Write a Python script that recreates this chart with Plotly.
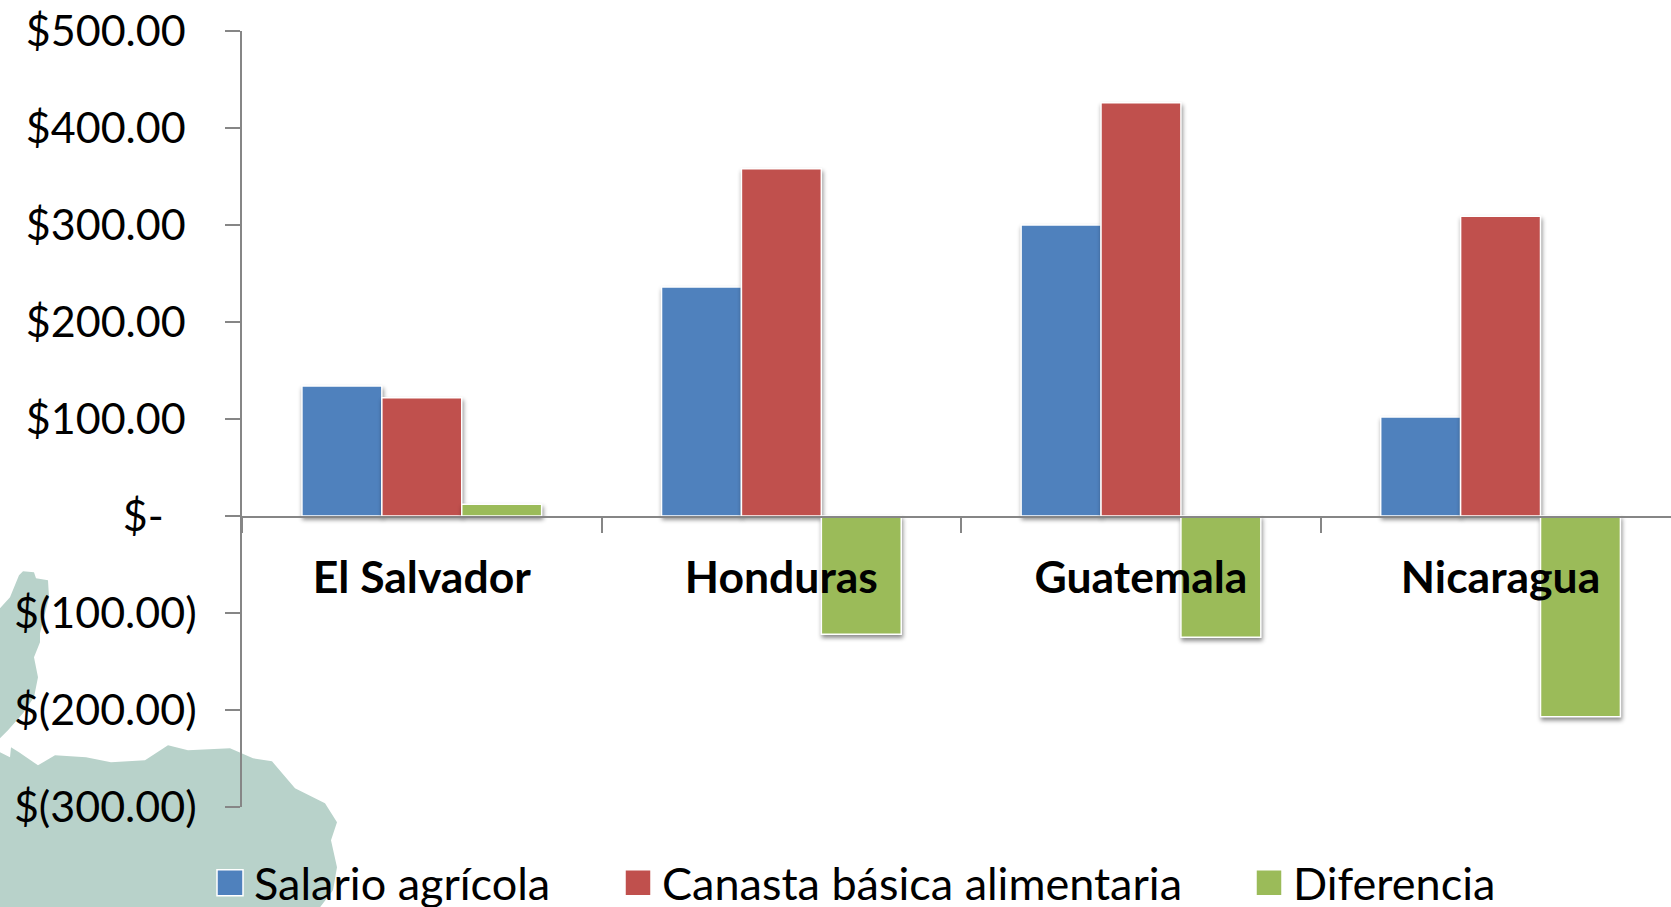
import plotly.graph_objects as go

categories = ["El Salvador", "Honduras", "Guatemala", "Nicaragua"]
salario = [134, 236, 300, 102]
canasta = [122, 358, 426, 309]
diferencia = [12, -122, -125, -207]
tick_vals = [500, 400, 300, 200, 100, 0, -100, -200, -300]
nb = "\u00a0"
tick_text = ["$500.00" + nb, "$400.00" + nb, "$300.00" + nb, "$200.00" + nb, "$100.00" + nb,
             "$-" + nb * 3, "$(100.00)", "$(200.00)", "$(300.00)"]

W, H = 1671, 907
L, T, B = 242, 30.7, 806.7
FONT = "Lato"
GRAY = "#868686"

def px(points):
    return "M" + " L".join(f"{(x - L) / (W - L):.5f},{1 - (y - T) / (B - T):.5f}" for x, y in points) + " Z"

land_a = [(0,608),(10,597),(19,575),(23,571),(34,572),(36,578),(48,580),(49,597),(40,633),(40,642),(34,657),(38,677),(34,697),(23,713),(8,730),(0,738)]
land_b = [(0,752),(10,757),(11,747),(19,752),(38,765),(55,755),(86,757),(111,762),(145,760),(168,745),(188,750),(230,748),(253,758),(272,761),(295,788),(325,803),(337,822),(331,840),(337,867),(333,890),(320,907),(0,907)]

fig = go.Figure()
series = [("Salario agrícola", salario, "#4F81BD", "legend"),
          ("Canasta básica alimentaria", canasta, "#C0504D", "legend2"),
          ("Diferencia", diferencia, "#9BBB59", "legend3")]
for name, vals, color, leg in series:
    fig.add_bar(name=name, x=categories, y=vals, legend=leg,
                marker=dict(color=color, line=dict(color="white", width=1.5)))
# invisible companion trace that ties the category axis to the upper (zero-based) y axis
fig.add_scatter(x=categories, y=salario, yaxis="y2", mode="markers", marker=dict(opacity=0),
                showlegend=False, hoverinfo="skip")

def legend(x):
    return dict(xref="container", yref="container", x=x / W, y=1 - 847 / H, xanchor="left", yanchor="top",
                bgcolor="rgba(0,0,0,0)", font=dict(family=FONT, size=45, color="black"), itemclick=False)

fig.update_layout(
    width=W, height=H, autosize=False,
    margin=dict(l=L, r=0, t=T, b=H - B, autoexpand=False),
    paper_bgcolor="white", plot_bgcolor="rgba(0,0,0,0)",
    bargap=1 / 3, bargroupgap=0, barmode="group",
    showlegend=True,
    legend=legend(214), legend2=legend(622), legend3=legend(1253),
    xaxis=dict(type="category", range=[-0.5, 3.474], anchor="y2", tickson="boundaries", tickangle=0,
               ticks="outside", ticklen=15, tickwidth=1.5, tickcolor=GRAY, showline=True, linecolor=GRAY, linewidth=1.5,
               showgrid=False, zeroline=False, ticklabelstandoff=22,
               tickfont=dict(family=FONT, size=44.5, color="black", weight="bold")),
    yaxis=dict(range=[-300, 500], tickvals=tick_vals, ticktext=tick_text, ticks="outside", ticklen=15, tickwidth=1.5,
               tickcolor=GRAY, showline=True, linecolor=GRAY, linewidth=1.5, showgrid=False, zeroline=False,
               ticklabelstandoff=20, tickfont=dict(family=FONT, size=43, color="black")),
    yaxis2=dict(domain=[0.375, 1], range=[0, 500], showline=False, showticklabels=False, ticks="", showgrid=False,
                zeroline=False, anchor="x"),
    shapes=[dict(type="path", xref="paper", yref="paper", path=px(p), fillcolor="#B8D2CA", line_width=0, layer="below")
            for p in (land_a, land_b)],
)

post = """
document.body.style.margin='0';
document.documentElement.style.overflow='hidden';
var gd=document.getElementById('{plot_id}');
function fix(){
document.querySelectorAll('.bars .point path').forEach(function(p){p.style.filter='drop-shadow(1px 3px 2px rgba(0,0,0,0.45))';});
document.querySelectorAll('.legendpoints path').forEach(function(p){p.setAttribute('d','M9,13H-17V-13H9Z');});
}
fix();
gd.on('plotly_afterplot',fix);
setTimeout(fix,50);setTimeout(fix,300);
"""
fig.write_html("out.html", post_script=post, config=dict(displayModeBar=False))
